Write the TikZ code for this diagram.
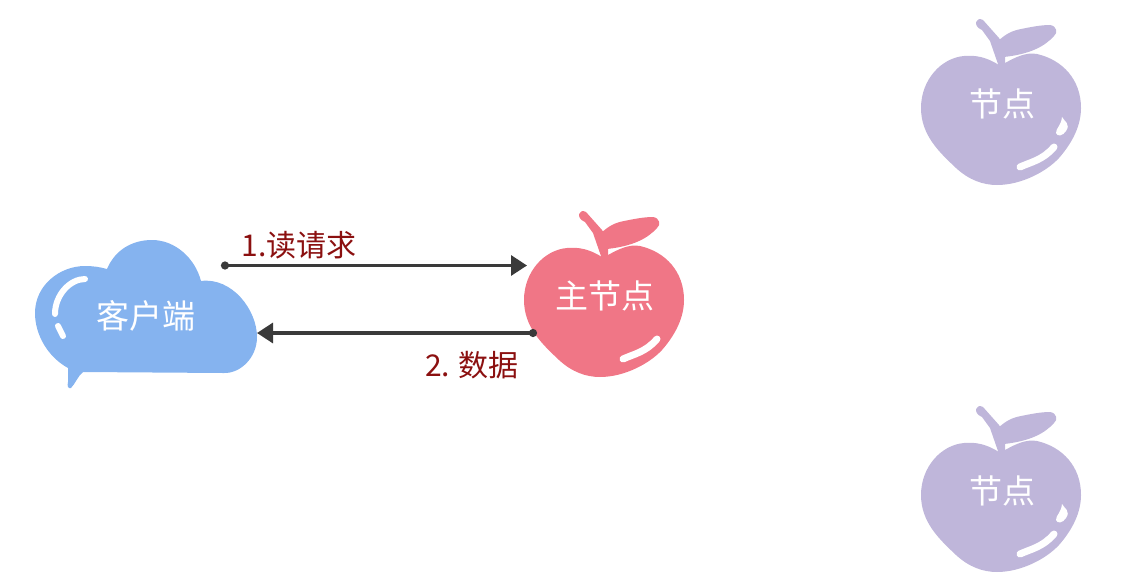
\documentclass[tikz,border=0pt]{standalone}
\usepackage{fontspec}
\setmainfont{Noto Sans CJK SC}
\usetikzlibrary{arrows.meta}

\definecolor{cloudblue}{HTML}{85B3EF}
\definecolor{masterred}{HTML}{F07686}
\definecolor{nodepurple}{HTML}{BFB6DA}
\definecolor{labelred}{HTML}{8B1010}
\definecolor{arrowgray}{HTML}{3A3A3A}

\tikzset{
    apple/.pic={
        % body
        \path[pic actions] (-2,-55) .. controls (-15,-63) and (-25,-65) .. (-37,-64)
            .. controls (-60,-62) and (-80,-40) .. (-80,-12)
            .. controls (-80,15) and (-62,32) .. (-45,48)
            .. controls (-32,60) and (-18,65) .. (-4,65)
            .. controls (20,65) and (45,52) .. (58,38)
            .. controls (72,22) and (80,5) .. (80,-12)
            .. controls (80,-40) and (62,-60) .. (36,-66)
            .. controls (25,-68) and (15,-63) .. (4,-57) -- cycle;
        % stem
        \path[pic actions] (-2,-53) -- (-11,-79) -- (-19,-90)
            .. controls (-29,-94) and (-25,-104) .. (-18,-100)
            -- (-2,-82) -- (4,-72) -- (4,-53) -- cycle;
        % leaf
        \path[pic actions] (-3,-79) .. controls (5,-86) and (10,-89) .. (20,-91)
            .. controls (30,-93) and (40,-95) .. (49,-95)
            .. controls (56,-94) and (57,-87) .. (53,-84)
            .. controls (44,-74) and (30,-66) .. (3,-63) -- cycle;
        % shine
        \draw[white, line width=7pt, line cap=round] (19,47) .. controls (30,42) and (42,40) .. (53,27);
    },
    shine/.pic={
        \fill[white] (61,-3) .. controls (63,1) and (70,4) .. (65,11)
            .. controls (62,16) and (56,17) .. (55,13)
            .. controls (55,8) and (60,6) .. (61,-3) -- cycle;
    }
}

\begin{document}
\begin{tikzpicture}[
    x=1pt, y=-1pt,
    arrow/.style={{Circle[length=8pt]}-{Triangle[length=16pt,width=20pt]}, line width=3.2pt, arrowgray},
    nodetext/.style={text=white, font=\fontsize{33}{33}\selectfont},
    steplabel/.style={text=labelred, font=\fontsize{30}{30}\selectfont}
]
\useasboundingbox (0,0) rectangle (1142,583);

% Shapes
\fill[cloudblue] (107,269) .. controls (115,250) and (132,240) .. (152,240)
    .. controls (175,240) and (195,258) .. (201,281)
    .. controls (232,277) and (257,310) .. (257,337)
    .. controls (257,358) and (240,374) .. (223,373)
    -- (83,372) .. controls (78,376) and (75,384) .. (71,388)
    .. controls (68,389) and (67,386) .. (68,382) -- (68,368)
    .. controls (48,357) and (35,335) .. (35,313)
    .. controls (35,285) and (60,266) .. (85,266)
    .. controls (93,266) and (100,267) .. (107,269) -- cycle;
\draw[white, line width=6pt, line cap=round] (85,279) .. controls (70,279) and (55,295) .. (55,314);
\draw[white, line width=6pt, line cap=round] (58,326) -- (63,336);

\pic[fill=masterred] at (604,312) {apple};
\pic[fill=nodepurple] at (1001,120) {apple};
\pic at (1001,120) {shine};
\pic[fill=nodepurple] at (1001,507) {apple};
\pic at (1001,507) {shine};

% Nodes
\node (client) [nodetext] at (146,316) {客户端};
\node (master) [nodetext] at (605,296) {主节点};
\node (nodeA) [nodetext] at (1002,104) {节点};
\node (nodeB) [nodetext] at (1002,491) {节点};

\node (readreq) [steplabel] at (299,245) {1.读请求};
\node (data) [steplabel] at (472,365) {2. 数据};

% Arrow ends
\coordinate (reqstart) at (221,265.5);
\coordinate (reqend) at (527,265.5);
\coordinate (datastart) at (537,333);
\coordinate (dataend) at (257,333);

\draw [arrow] (reqstart) -- (reqend);
\draw [arrow] (datastart) -- (dataend);

\end{tikzpicture}
\end{document}
